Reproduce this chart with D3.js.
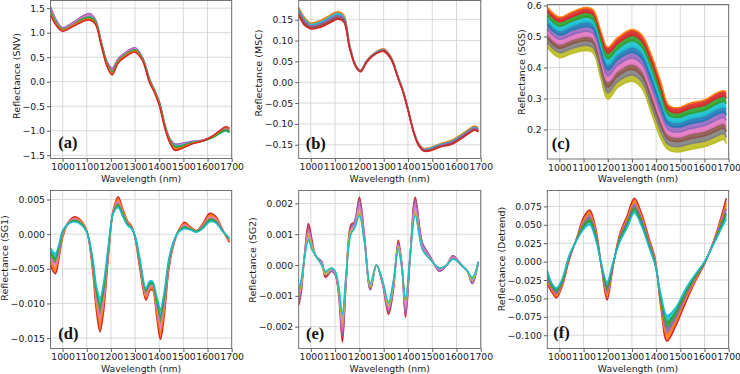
<!DOCTYPE html>
<html>
<head>
<meta charset="utf-8">
<script src="https://cdn.jsdelivr.net/npm/d3@7"></script>
<style>
  body { margin: 0; background: #fff; }
  svg { display: block; }
</style>
</head>
<body>
<div id="chart"></div>
<script>
// ---- data (representative spectra per panel) ----
const wavelengthTicks = [1000, 1100, 1200, 1300, 1400, 1500, 1600, 1700];

// (a) SNV
const wlSNV = [950, 975, 1000, 1040, 1080, 1110, 1135, 1160, 1185, 1205, 1230, 1260, 1300, 1330, 1360, 1380, 1400, 1425, 1445, 1465, 1490, 1530, 1580, 1620, 1650, 1675, 1690];
const snvPurple = [1.53, 1.25, 1.10, 1.20, 1.33, 1.39, 1.28, 0.82, 0.40, 0.28, 0.47, 0.60, 0.69, 0.50, 0.06, -0.16, -0.40, -0.90, -1.17, -1.27, -1.26, -1.22, -1.19, -1.11, -1.02, -0.94, -0.97];
const snvPink   = [1.48, 1.22, 1.08, 1.18, 1.30, 1.36, 1.26, 0.80, 0.38, 0.25, 0.45, 0.58, 0.67, 0.49, 0.05, -0.17, -0.41, -0.91, -1.19, -1.30, -1.29, -1.24, -1.20, -1.12, -1.03, -0.95, -0.98];
const snvGray   = [1.45, 1.20, 1.07, 1.16, 1.28, 1.33, 1.24, 0.79, 0.36, 0.22, 0.43, 0.56, 0.65, 0.48, 0.04, -0.18, -0.42, -0.92, -1.20, -1.32, -1.31, -1.25, -1.21, -1.13, -1.04, -0.97, -1.00];
const snvCyan   = [1.44, 1.19, 1.06, 1.15, 1.27, 1.32, 1.24, 0.79, 0.35, 0.21, 0.42, 0.55, 0.64, 0.47, 0.04, -0.18, -0.43, -0.93, -1.21, -1.31, -1.30, -1.25, -1.21, -1.14, -1.06, -1.00, -1.04];
const snvGreen  = [1.42, 1.18, 1.06, 1.15, 1.27, 1.31, 1.23, 0.78, 0.35, 0.20, 0.42, 0.55, 0.64, 0.47, 0.03, -0.19, -0.43, -0.93, -1.21, -1.33, -1.32, -1.25, -1.21, -1.14, -1.05, -0.99, -1.03];
const snvOrange = [1.39, 1.16, 1.05, 1.14, 1.24, 1.28, 1.20, 0.76, 0.32, 0.17, 0.40, 0.53, 0.62, 0.45, 0.00, -0.20, -0.46, -0.96, -1.24, -1.37, -1.35, -1.27, -1.21, -1.12, -1.01, -0.93, -0.96];
const snvRed    = [1.36, 1.14, 1.03, 1.12, 1.22, 1.26, 1.18, 0.74, 0.30, 0.14, 0.38, 0.51, 0.60, 0.44, -0.02, -0.22, -0.48, -0.98, -1.26, -1.40, -1.37, -1.28, -1.21, -1.11, -1.00, -0.92, -0.95];

// (b) MSC
const wlMSC = [950, 975, 1000, 1040, 1080, 1110, 1135, 1160, 1185, 1205, 1230, 1260, 1300, 1330, 1360, 1380, 1400, 1425, 1445, 1465, 1490, 1530, 1580, 1620, 1650, 1675, 1690];
const mscOrange = [0.179, 0.154, 0.142, 0.148, 0.161, 0.169, 0.161, 0.090, 0.041, 0.029, 0.052, 0.069, 0.080, 0.061, 0.012, -0.020, -0.063, -0.120, -0.147, -0.159, -0.157, -0.148, -0.139, -0.125, -0.113, -0.105, -0.109];
const mscCyan   = [0.174, 0.149, 0.138, 0.144, 0.156, 0.164, 0.157, 0.087, 0.040, 0.028, 0.051, 0.068, 0.078, 0.059, 0.011, -0.021, -0.064, -0.121, -0.149, -0.161, -0.159, -0.150, -0.142, -0.128, -0.116, -0.108, -0.112];
const mscPurple = [0.170, 0.145, 0.135, 0.140, 0.152, 0.160, 0.153, 0.085, 0.039, 0.027, 0.050, 0.067, 0.077, 0.058, 0.010, -0.022, -0.065, -0.122, -0.150, -0.162, -0.161, -0.152, -0.144, -0.130, -0.118, -0.110, -0.114];
const mscBrown  = [0.165, 0.140, 0.131, 0.136, 0.147, 0.155, 0.149, 0.083, 0.038, 0.026, 0.049, 0.066, 0.076, 0.057, 0.009, -0.023, -0.066, -0.123, -0.152, -0.164, -0.163, -0.154, -0.147, -0.133, -0.121, -0.113, -0.117];
const mscRed    = [0.161, 0.136, 0.128, 0.132, 0.143, 0.151, 0.145, 0.080, 0.037, 0.025, 0.048, 0.065, 0.074, 0.055, 0.008, -0.024, -0.067, -0.124, -0.153, -0.165, -0.165, -0.156, -0.149, -0.135, -0.123, -0.115, -0.119];

// (c) SGS
const wlSGS = [950, 1000, 1050, 1110, 1140, 1170, 1200, 1240, 1300, 1340, 1380, 1420, 1450, 1490, 1540, 1600, 1650, 1680, 1690];
const sgsOrange = [0.595, 0.562, 0.578, 0.593, 0.585, 0.520, 0.465, 0.495, 0.522, 0.505, 0.440, 0.350, 0.280, 0.270, 0.285, 0.295, 0.318, 0.325, 0.320];
const sgsRed    = [0.581, 0.548, 0.563, 0.578, 0.570, 0.504, 0.447, 0.477, 0.504, 0.486, 0.420, 0.330, 0.264, 0.254, 0.269, 0.279, 0.301, 0.308, 0.302];
const sgsGreen  = [0.566, 0.533, 0.549, 0.563, 0.555, 0.487, 0.428, 0.460, 0.486, 0.468, 0.399, 0.310, 0.248, 0.239, 0.252, 0.262, 0.283, 0.291, 0.284];
const sgsCyan   = [0.552, 0.519, 0.534, 0.548, 0.540, 0.471, 0.410, 0.442, 0.467, 0.449, 0.379, 0.291, 0.232, 0.223, 0.236, 0.246, 0.266, 0.273, 0.266];
const sgsBlue   = [0.538, 0.505, 0.520, 0.532, 0.525, 0.454, 0.392, 0.425, 0.449, 0.430, 0.359, 0.271, 0.216, 0.208, 0.219, 0.229, 0.249, 0.256, 0.247];
const sgsPurple = [0.524, 0.491, 0.505, 0.517, 0.510, 0.438, 0.373, 0.407, 0.431, 0.412, 0.338, 0.251, 0.200, 0.192, 0.203, 0.213, 0.231, 0.239, 0.229];
const sgsPink   = [0.509, 0.476, 0.490, 0.502, 0.495, 0.421, 0.355, 0.389, 0.412, 0.393, 0.318, 0.231, 0.184, 0.176, 0.187, 0.196, 0.214, 0.221, 0.211];
const sgsBrown  = [0.495, 0.462, 0.476, 0.487, 0.480, 0.405, 0.336, 0.372, 0.394, 0.374, 0.298, 0.211, 0.168, 0.161, 0.170, 0.180, 0.196, 0.204, 0.193];
const sgsGray   = [0.481, 0.448, 0.461, 0.472, 0.464, 0.388, 0.318, 0.354, 0.376, 0.355, 0.277, 0.192, 0.152, 0.145, 0.154, 0.163, 0.179, 0.187, 0.175];
const sgsOlive  = [0.465, 0.432, 0.445, 0.455, 0.448, 0.370, 0.298, 0.335, 0.356, 0.335, 0.255, 0.170, 0.135, 0.128, 0.136, 0.145, 0.160, 0.168, 0.155];

// (d) SG1
const wlSG1 = [950, 970, 985, 1000, 1025, 1050, 1075, 1100, 1125, 1140, 1155, 1170, 1190, 1210, 1230, 1250, 1270, 1285, 1300, 1320, 1345, 1360, 1372, 1390, 1405, 1420, 1440, 1460, 1480, 1505, 1530, 1555, 1580, 1610, 1635, 1660, 1690];
const sg1Red    = [-0.0045, -0.0057, -0.0035, -0.0005, 0.0018, 0.0025, 0.0020, 0.0005, -0.0055, -0.0110, -0.0141, -0.0110, -0.0030, 0.0035, 0.0054, 0.0035, 0.0018, 0.0012, -0.0005, -0.0050, -0.0095, -0.0082, -0.0080, -0.0120, -0.0152, -0.0120, -0.0050, -0.0015, 0.0005, 0.0017, 0.0010, 0.0005, 0.0015, 0.0030, 0.0025, 0.0008, -0.0012];
const sg1Orange = [-0.0039, -0.0050, -0.0030, -0.0003, 0.0017, 0.0023, 0.0019, 0.0005, -0.0050, -0.0101, -0.0129, -0.0100, -0.0026, 0.0034, 0.0050, 0.0033, 0.0017, 0.0011, -0.0004, -0.0046, -0.0091, -0.0079, -0.0077, -0.0113, -0.0141, -0.0111, -0.0046, -0.0014, 0.0005, 0.0015, 0.0009, 0.0005, 0.0013, 0.0027, 0.0023, 0.0007, -0.0010];
const sg1Pink   = [-0.0033, -0.0043, -0.0025, 0.0000, 0.0017, 0.0022, 0.0017, 0.0004, -0.0045, -0.0093, -0.0117, -0.0090, -0.0023, 0.0033, 0.0046, 0.0030, 0.0015, 0.0010, -0.0004, -0.0043, -0.0087, -0.0075, -0.0074, -0.0105, -0.0130, -0.0103, -0.0043, -0.0013, 0.0004, 0.0013, 0.0008, 0.0004, 0.0012, 0.0024, 0.0021, 0.0007, -0.0009];
const sg1Green  = [-0.0026, -0.0035, -0.0020, 0.0003, 0.0016, 0.0020, 0.0016, 0.0004, -0.0040, -0.0084, -0.0104, -0.0080, -0.0019, 0.0031, 0.0042, 0.0028, 0.0014, 0.0009, -0.0003, -0.0039, -0.0082, -0.0072, -0.0071, -0.0098, -0.0119, -0.0094, -0.0039, -0.0011, 0.0004, 0.0010, 0.0007, 0.0004, 0.0010, 0.0021, 0.0018, 0.0006, -0.0007];
const sg1Cyan   = [-0.0020, -0.0028, -0.0015, 0.0005, 0.0015, 0.0018, 0.0014, 0.0003, -0.0035, -0.0075, -0.0092, -0.0070, -0.0015, 0.0030, 0.0038, 0.0025, 0.0012, 0.0008, -0.0002, -0.0035, -0.0078, -0.0068, -0.0068, -0.0090, -0.0108, -0.0085, -0.0035, -0.0010, 0.0003, 0.0008, 0.0006, 0.0003, 0.0008, 0.0018, 0.0016, 0.0005, -0.0005];

// (e) SG2
const wlSG2 = [950, 960, 975, 990, 1005, 1020, 1045, 1060, 1085, 1100, 1115, 1130, 1145, 1165, 1180, 1200, 1220, 1245, 1270, 1295, 1320, 1340, 1360, 1375, 1390, 1410, 1430, 1460, 1490, 1530, 1560, 1585, 1620, 1645, 1665, 1690];
const sg2Red    = [-0.0013, -0.0009, 0.0004, 0.00135, 0.0008, 0.0003, 0.0001, -0.0004, -0.0002, -0.0003, -0.0010, -0.0025, -0.0006, 0.0013, 0.0014, 0.0022, 0.0010, -0.0008, 0.0000, -0.0006, -0.0016, -0.0008, 0.0008, 0.0000, -0.0017, 0.0004, 0.0022, 0.0007, 0.0003, -0.0002, 0.0000, 0.0003, 0.0000, -0.0002, -0.0006, 0.0001];
const sg2Purple = [-0.0012, -0.0008, 0.0004, 0.0012, 0.0007, 0.0003, 0.0001, -0.0003, -0.0002, -0.0003, -0.0009, -0.0023, -0.0005, 0.0012, 0.0014, 0.0021, 0.0010, -0.0008, 0.0000, -0.0006, -0.0015, -0.0007, 0.0007, 0.0000, -0.0016, 0.0004, 0.0021, 0.0007, 0.0003, -0.0002, 0.0000, 0.0003, 0.0000, -0.0002, -0.0006, 0.0001];
const sg2Pink   = [-0.00105, -0.0007, 0.00035, 0.00108, 0.00065, 0.0003, 0.00005, -0.0003, -0.00015, -0.00025, -0.00085, -0.00205, -0.00045, 0.00115, 0.0013, 0.0019, 0.0009, -0.0007, 0.0000, -0.00055, -0.0014, -0.00065, 0.00065, -0.00005, -0.0014, 0.0004, 0.0019, 0.0006, 0.00025, -0.00015, 0.0000, 0.00025, 0.0000, -0.0002, -0.0005, 0.0001];
const sg2Olive  = [-0.0009, -0.0006, 0.0003, 0.0009, 0.0006, 0.0003, 0.0000, -0.0003, -0.0001, -0.0002, -0.0008, -0.0018, -0.0004, 0.0011, 0.0012, 0.0017, 0.0008, -0.0007, 0.0000, -0.0005, -0.0013, -0.0006, 0.0006, -0.0001, -0.0012, 0.0004, 0.0017, 0.0005, 0.0002, -0.0001, 0.0000, 0.0002, 0.0000, -0.0002, -0.0005, 0.0001];
const sg2Cyan   = [-0.0008, -0.0005, 0.0003, 0.0008, 0.0005, 0.0003, 0.0000, -0.0002, -0.0001, -0.0002, -0.0007, -0.0016, -0.0003, 0.0010, 0.0012, 0.0016, 0.0008, -0.0006, 0.0000, -0.0005, -0.0012, -0.0005, 0.0005, -0.0001, -0.0011, 0.0004, 0.0016, 0.0005, 0.0002, -0.0001, 0.0000, 0.0002, 0.0000, -0.0002, -0.0004, 0.0001];

// (f) Detrend
const wlDT = [950, 970, 988, 1010, 1040, 1070, 1100, 1125, 1150, 1175, 1197, 1220, 1250, 1280, 1310, 1340, 1370, 1395, 1420, 1445, 1480, 1520, 1560, 1600, 1640, 1670, 1690];
const dtRed    = [-0.030, -0.042, -0.049, -0.035, 0.002, 0.030, 0.060, 0.070, 0.045, -0.010, -0.052, -0.010, 0.038, 0.062, 0.086, 0.065, 0.032, 0.005, -0.063, -0.108, -0.088, -0.057, -0.028, -0.003, 0.030, 0.062, 0.086];
const dtOrange = [-0.026, -0.039, -0.046, -0.033, 0.004, 0.030, 0.056, 0.065, 0.041, -0.009, -0.046, -0.008, 0.035, 0.058, 0.081, 0.061, 0.029, 0.003, -0.059, -0.099, -0.082, -0.052, -0.026, -0.002, 0.029, 0.058, 0.079];
const dtPurple = [-0.021, -0.036, -0.043, -0.030, 0.005, 0.029, 0.052, 0.060, 0.038, -0.008, -0.040, -0.007, 0.033, 0.054, 0.076, 0.057, 0.026, 0.001, -0.054, -0.091, -0.076, -0.048, -0.023, -0.002, 0.028, 0.054, 0.072];
const dtGreen  = [-0.017, -0.033, -0.039, -0.028, 0.007, 0.029, 0.048, 0.055, 0.034, -0.006, -0.034, -0.005, 0.030, 0.050, 0.071, 0.052, 0.023, -0.002, -0.050, -0.082, -0.069, -0.043, -0.021, -0.001, 0.026, 0.049, 0.065];
const dtCyan   = [-0.012, -0.030, -0.036, -0.025, 0.008, 0.028, 0.044, 0.050, 0.030, -0.005, -0.028, -0.003, 0.027, 0.046, 0.066, 0.048, 0.020, -0.004, -0.045, -0.073, -0.063, -0.038, -0.018, 0.000, 0.025, 0.045, 0.058];

// y tick values
const snvTicks = [-1.5, -1.0, -0.5, 0.0, 0.5, 1.0, 1.5];
const mscTicks = [-0.15, -0.10, -0.05, 0.00, 0.05, 0.10, 0.15];
const sgsTicks = [0.2, 0.3, 0.4, 0.5, 0.6];
const sg1Ticks = [-0.015, -0.010, -0.005, 0.000, 0.005];
const sg2Ticks = [-0.002, -0.001, 0.000, 0.001, 0.002];
const dtTicks  = [-0.100, -0.075, -0.050, -0.025, 0.000, 0.025, 0.050, 0.075];

// matplotlib tab10
const C = {blue: "#1f77b4", orange: "#ff7f0e", green: "#2ca02c", red: "#d62728", purple: "#9467bd",
           brown: "#8c564b", pink: "#e377c2", gray: "#7f7f7f", olive: "#bcbd22", cyan: "#17becf"};

const panels = [
  {id: "a", ylabel: "Reflectance (SNV)", letter: "(a)", wl: wlSNV,
   series: [snvPurple, snvPink, snvGray, snvCyan, snvGreen, snvOrange, snvRed],
   colors: [C.purple, C.pink, C.gray, C.cyan, C.green, C.orange, C.red],
   ticks: snvTicks, fmt: ".1f", domain: [-1.567, 1.657],
   box: [50.5, 0.5, 181.2, 158], labelMid: 76, letterPos: [7.8, 10.5]},
  {id: "b", ylabel: "Reflectance (MSC)", letter: "(b)", wl: wlMSC,
   series: [mscOrange, mscCyan, mscPurple, mscBrown, mscRed],
   colors: [C.orange, C.cyan, C.purple, C.brown, C.red],
   ticks: mscTicks, fmt: ".2f", domain: [-0.183, 0.196],
   box: [298.7, 0.5, 182.1, 158], labelMid: 73, letterPos: [7, 9.5]},
  {id: "c", ylabel: "Reflectance (SGS)", letter: "(c)", wl: wlSGS,
   series: [sgsOrange, sgsRed, sgsGreen, sgsCyan, sgsBlue, sgsPurple, sgsPink, sgsBrown, sgsGray, sgsOlive],
   colors: [C.orange, C.red, C.green, C.cyan, C.blue, C.purple, C.pink, C.brown, C.gray, C.olive],
   ticks: sgsTicks, fmt: ".1f", domain: [0.105, 0.603],
   box: [547.3, 4.5, 181.4, 154.5], labelMid: 72, letterPos: [4.4, 9.7]},
  {id: "d", ylabel: "Reflectance (SG1)", letter: "(d)", wl: wlSG1,
   series: [sg1Red, sg1Orange, sg1Pink, sg1Green, sg1Cyan],
   colors: [C.red, C.orange, C.pink, C.green, C.cyan],
   ticks: sg1Ticks, fmt: ".3f", domain: [-0.0165, 0.0063],
   box: [50.5, 190.5, 181.2, 158], labelMid: 258, letterPos: [7.8, 9.5]},
  {id: "e", ylabel: "Reflectance (SG2)", letter: "(e)", wl: wlSG2,
   series: [sg2Red, sg2Purple, sg2Pink, sg2Olive, sg2Cyan],
   colors: [C.red, C.purple, C.pink, C.olive, C.cyan],
   ticks: sg2Ticks, fmt: ".3f", domain: [-0.00271, 0.00242],
   box: [298.7, 190.5, 182.1, 158], labelMid: 260, letterPos: [7.3, 9.5]},
  {id: "f", ylabel: "Reflectance (Detrend)", letter: "(f)", wl: wlDT,
   series: [dtRed, dtOrange, dtPurple, dtGreen, dtCyan],
   colors: [C.red, C.orange, C.purple, C.green, C.cyan],
   ticks: dtTicks, fmt: ".3f", domain: [-0.118, 0.0966],
   box: [547.3, 190.5, 181.4, 158], labelMid: 259, letterPos: [6, 10.2]}
];

const FONT = "DejaVu Sans, sans-serif";

const svg = d3.select("#chart").append("svg")
  .attr("width", 740)
  .attr("height", 374);

panels.forEach(function(p) {
  const [left, top, w, h] = p.box;

  const x = d3.scaleLinear().domain([950, 1700]).range([0, w]);
  const y = d3.scaleLinear().domain(p.domain).range([h, 0]);

  const g = svg.append("g").attr("transform", "translate(" + left + "," + top + ")");

  g.append("clipPath").attr("id", "clip-" + p.id)
    .append("rect").attr("width", w).attr("height", h);

  // grid
  g.append("g").selectAll("line")
    .data(wavelengthTicks)
    .join("line")
    .attr("x1", d => x(d)).attr("x2", d => x(d))
    .attr("y1", 0).attr("y2", h)
    .attr("stroke", "#cfcfcf").attr("stroke-width", 0.8);
  g.append("g").selectAll("line")
    .data(p.ticks)
    .join("line")
    .attr("x1", 0).attr("x2", w)
    .attr("y1", d => y(d)).attr("y2", d => y(d))
    .attr("stroke", "#cfcfcf").attr("stroke-width", 0.8);

  const plot = g.append("g").attr("clip-path", "url(#clip-" + p.id + ")");
  const curve = d3.curveCatmullRom.alpha(0.5);

  // fill between neighbouring spectra so the bundle reads as a dense band
  for (let i = 0; i < p.series.length - 1; i++) {
    const upper = p.series[i], lower = p.series[i + 1];
    const band = d3.area()
      .x((d, j) => x(p.wl[j]))
      .y0((d, j) => y(lower[j]))
      .y1((d, j) => y(upper[j]))
      .curve(curve);
    plot.append("path")
      .datum(p.wl)
      .attr("d", band)
      .attr("fill", p.colors[i + 1])
      .attr("opacity", 0.9);
  }

  const line = d3.line()
    .x((d, j) => x(p.wl[j]))
    .y(d => y(d))
    .curve(curve);

  plot.selectAll("path.spec")
    .data(p.series)
    .join("path")
    .attr("class", "spec")
    .attr("d", line)
    .attr("fill", "none")
    .attr("stroke", (d, i) => p.colors[i])
    .attr("stroke-width", 1.6);

  // axes
  const xa = g.append("g")
    .attr("transform", "translate(0," + h + ")")
    .call(d3.axisBottom(x).tickValues(wavelengthTicks).tickFormat(d3.format("d")).tickSize(3.5).tickPadding(1.5));
  const ya = g.append("g")
    .call(d3.axisLeft(y).tickValues(p.ticks).tickFormat(d3.format(p.fmt)).tickSize(3.5).tickPadding(2));

  [xa, ya].forEach(function(a) {
    a.attr("font-family", FONT).attr("font-size", 9.3);
    a.select(".domain").remove();
    a.selectAll(".tick line").attr("stroke", "#333").attr("stroke-width", 0.8);
    a.selectAll(".tick text").attr("fill", "#1a1a1a");
  });

  // frame
  g.append("rect")
    .attr("width", w).attr("height", h)
    .attr("fill", "none")
    .attr("stroke", "#666").attr("stroke-width", 0.9);

  // axis labels
  g.append("text")
    .attr("x", w / 2).attr("y", h + 23)
    .attr("text-anchor", "middle")
    .attr("font-family", FONT).attr("font-size", 9.3)
    .attr("fill", "#1a1a1a")
    .text("Wavelength (nm)");

  const maxW = d3.max(ya.selectAll(".tick text").nodes(), n => n.getComputedTextLength());
  g.append("text")
    .attr("transform", "translate(" + (-(maxW + 8)) + "," + (p.labelMid - top) + ") rotate(-90)")
    .attr("text-anchor", "middle")
    .attr("font-family", FONT).attr("font-size", 9.5)
    .attr("fill", "#1a1a1a")
    .text(p.ylabel);

  // panel letter
  g.append("text")
    .attr("x", p.letterPos[0]).attr("y", h - p.letterPos[1])
    .attr("font-family", "Liberation Serif, Times New Roman, serif")
    .attr("font-weight", "bold").attr("font-size", 16.5)
    .attr("fill", "#111")
    .text(p.letter);
});
</script>
</body>
</html>
